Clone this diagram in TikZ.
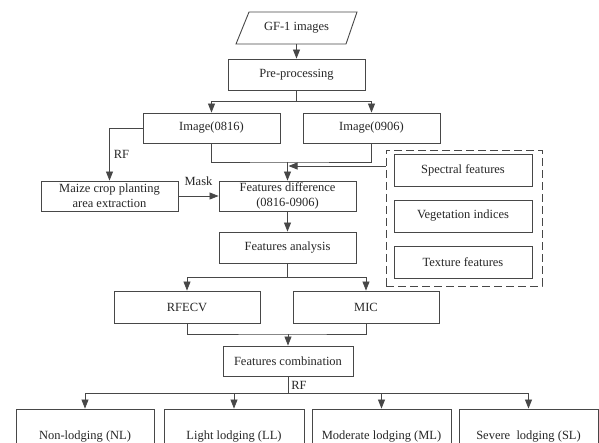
\documentclass[tikz,border=0pt]{standalone}
\usepackage{fontspec}
\setmainfont{Liberation Serif}
\usetikzlibrary{arrows.meta,calc}
\begin{document}
\begin{tikzpicture}[x=1pt,y=-1pt,
  font=\fontsize{12.5}{15}\selectfont,
  box/.style={draw=black!72,line width=0.9pt,fill=white,text=black!85,minimum width=137pt,minimum height=30pt,inner sep=1pt,align=center},
  conn/.style={draw=black!72,line width=0.8pt},
  arr/.style={conn,-{Triangle[length=9pt,width=7pt]}},
  lbl/.style={text=black!85,inner sep=1pt}]
\clip (0,0) rectangle (599,443);
\fill[white] (0,0) rectangle (599,443);
% GF-1 images
\draw[black!72,line width=0.9pt] (249,12) -- (357,12) -- (346,44) -- (236,44) -- cycle;
\node[minimum width=108pt,minimum height=32pt,inner sep=0pt,text=black!85] (gf) at (296.5,28) {GF-1 images};
\node[box,minimum height=31pt] (pre) at (296.5,74.5) {Pre-processing};
\node[box] (img1) at (211.5,128) {Image(0816)};
\node[box] (img2) at (371.5,128) {Image(0906)};
\node[box] (maize) at (109.5,196) {Maize crop planting\\area extraction};
\node[box] (fdiff) at (287.5,196) {Features difference\\(0816-0906)};
\node[draw=black!72,line width=0.9pt,dash pattern=on 8pt off 4pt,minimum width=156pt,minimum height=136pt] (dbox) at (464,218) {};
\node[box,minimum width=138pt,minimum height=32pt] (spec) at (463,170) {Spectral features};
\node[box,minimum width=138pt,minimum height=32pt] (veg) at (463,216) {Vegetation indices};
\node[box,minimum width=138pt,minimum height=32pt] (tex) at (463,262) {Texture features};
\node[box,minimum height=31pt] (fana) at (287.5,247.5) {Features analysis};
\node[box,minimum width=146pt,minimum height=32pt] (rfecv) at (187,307) {RFECV};
\node[box,minimum width=146pt,minimum height=32pt] (mic) at (366,307) {MIC};
\node[box,minimum width=130pt] (fcomb) at (288,361) {Features combination};
\node[box,minimum width=138pt,minimum height=56pt] (nl) at (85,437) {Non-lodging (NL)};
\node[box,minimum width=140pt,minimum height=56pt] (ll) at (234,437) {Light lodging (LL)};
\node[box,minimum width=139pt,minimum height=56pt] (ml) at (381.5,437) {Moderate lodging (ML)};
\node[box,minimum width=139pt,minimum height=56pt] (sl) at (528.5,437) {Severe\ \ lodging (SL)};
% connectors
\draw[arr] (gf.south) -- (pre.north);
\coordinate (s1) at ($(pre.south)+(0,11)$);
\draw[arr] (pre.south) -- (s1) -| (img1.north);
\draw[arr] (s1) -| (img2.north);
\draw[arr] (img1.west) -| (maize.north) node[lbl,pos=0.75,right=3pt] {RF};
\draw[arr] (maize.east) -- (fdiff.west) node[lbl,midway,above=9pt] {Mask};
\coordinate (j1) at (fdiff.north |- 0,162);
\draw[conn] (img1.south) |- (j1) -| (img2.south);
\draw[arr] (j1) -- (fdiff.north);
\coordinate (j2) at ($(fdiff.north |- 0,166)+(1,0)$);
\draw[arr] (dbox.west |- j2) -- (j2);
\draw[arr] (fdiff.south) -- (fana.north);
\coordinate (s2) at ($(fana.south)+(0,14)$);
\draw[arr] (fana.south) -- (s2) -| (rfecv.north);
\draw[arr] (s2) -| (mic.north);
\coordinate (j3) at (fcomb.north |- 0,334);
\draw[conn] (rfecv.south) |- (j3) -| (mic.south);
\draw[arr] (j3) -- (fcomb.north);
\coordinate (s3) at ($(fcomb.south)+(0,17)$);
\draw[conn] (fcomb.south) -- (s3) node[lbl,pos=0.55,right=2pt] {RF};
\draw[arr] (s3) -| (nl.north);
\draw[arr] (s3) -| (ll.north);
\draw[arr] (s3) -| (ml.north);
\draw[arr] (s3) -| (sl.north);
\end{tikzpicture}
\end{document}
